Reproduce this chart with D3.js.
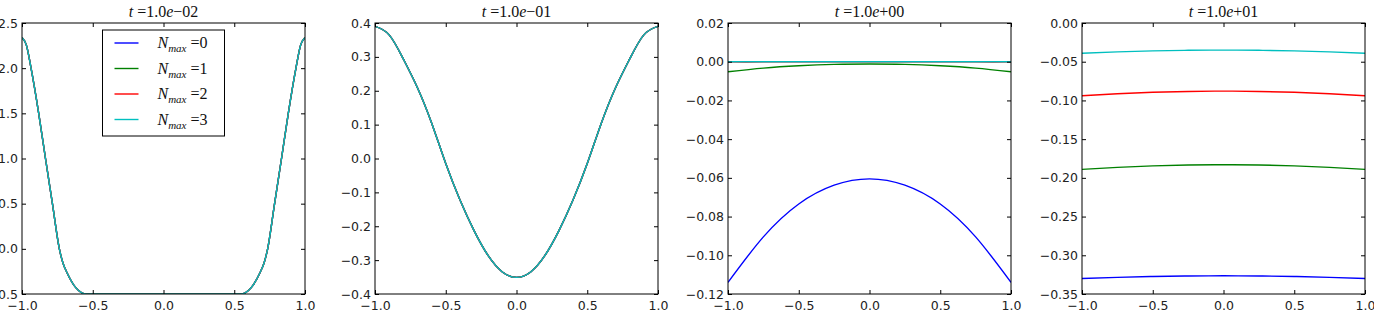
<!DOCTYPE html>
<html>
<head>
<meta charset="utf-8">
<script src="https://cdn.jsdelivr.net/npm/d3@7"></script>
<style>
body { margin: 0; background: #fff; }
svg { display: block; }
</style>
</head>
<body>
<div id="chart"></div>
<script>
var W = 1374, H = 317;

// legend / series
var seriesNames = ["0", "1", "2", "3"];
var seriesColors = ["#0000ff", "#008000", "#ff0000", "#00bfbf"];

// panel titles: exponent of t
var titleExps = ["\u221202", "\u221201", "+00", "+01"];

var xTicks = [-1, -0.5, 0, 0.5, 1];

// panel 1, t = 1e-2 (all four series coincide)
var x1 = [-1, -0.968, -0.936, -0.882, -0.834, -0.785, -0.736, -0.71, -0.68, -0.62, -0.58, -0.548,
          0, 0.548, 0.58, 0.62, 0.68, 0.71, 0.736, 0.785, 0.834, 0.882, 0.936, 0.968, 1];
var y1 = [2.34, 2.25, 2.0, 1.5, 1.0, 0.5, 0.0, -0.16, -0.27, -0.43, -0.485, -0.5,
          -0.5, -0.5, -0.485, -0.43, -0.27, -0.16, 0.0, 0.5, 1.0, 1.5, 2.0, 2.25, 2.34];
var yTicks1 = [-0.5, 0, 0.5, 1, 1.5, 2, 2.5];

// panel 2, t = 1e-1 (all four series coincide)
var x2 = [-1, -0.9, -0.8, -0.7, -0.6, -0.5, -0.4, -0.3, -0.2, -0.1, 0, 0.1, 0.2, 0.3, 0.4, 0.5, 0.6, 0.7, 0.8, 0.9, 1];
var y2 = [0.390, 0.365, 0.294, 0.209, 0.105, -0.015, -0.122, -0.213, -0.287, -0.335, -0.351, -0.335, -0.287, -0.213, -0.122, -0.015, 0.105, 0.209, 0.294, 0.365, 0.390];
var yTicks2 = [-0.4, -0.3, -0.2, -0.1, 0, 0.1, 0.2, 0.3, 0.4];

// panels 3 and 4 share an x grid
var xs = [-1, -0.75, -0.5, -0.25, 0, 0.25, 0.5, 0.75, 1];

// panel 3, t = 1e0
var y3n0 = [-0.114, -0.0905, -0.0735, -0.0638, -0.0605, -0.0638, -0.0735, -0.0905, -0.114];
var y3n1 = [-0.0052, -0.0033, -0.0021, -0.0014, -0.0012, -0.0014, -0.0021, -0.0033, -0.0052];
var y3n2 = [-0.0001, -0.0001, 0, 0, 0, 0, 0, -0.0001, -0.0001];
var y3n3 = [0, 0, 0, 0, 0, 0, 0, 0, 0];
var yTicks3 = [-0.12, -0.10, -0.08, -0.06, -0.04, -0.02, 0, 0.02];

// panel 4, t = 1e1
var y4n0 = [-0.330, -0.3285, -0.3274, -0.3267, -0.3265, -0.3267, -0.3274, -0.3285, -0.330];
var y4n1 = [-0.189, -0.1864, -0.1845, -0.1834, -0.183, -0.1834, -0.1845, -0.1864, -0.189];
var y4n2 = [-0.094, -0.0914, -0.0895, -0.0884, -0.088, -0.0884, -0.0895, -0.0914, -0.094];
var y4n3 = [-0.039, -0.03725, -0.036, -0.03525, -0.035, -0.03525, -0.036, -0.03725, -0.039];
var yTicks4 = [-0.35, -0.30, -0.25, -0.20, -0.15, -0.10, -0.05, 0];

var panels = [
    { xs: x1, ys: [y1, y1, y1, y1], yDomain: [-0.5, 2.5], yTicks: yTicks1, fmt: ".1f", curve: d3.curveMonotoneX, legend: true },
    { xs: x2, ys: [y2, y2, y2, y2], yDomain: [-0.4, 0.4], yTicks: yTicks2, fmt: ".1f", curve: d3.curveNatural },
    { xs: xs, ys: [y3n0, y3n1, y3n2, y3n3], yDomain: [-0.12, 0.02], yTicks: yTicks3, fmt: ".2f", curve: d3.curveNatural },
    { xs: xs, ys: [y4n0, y4n1, y4n2, y4n3], yDomain: [-0.35, 0], yTicks: yTicks4, fmt: ".2f", curve: d3.curveNatural }
];

var lefts = [22, 375, 728, 1082];
var pw = 283, plotTop = 23, ph = 271;
var tick = 4;

var svg = d3.select("#chart").append("svg")
    .attr("width", W)
    .attr("height", H);

panels.forEach(function(p, i) {
    var g = svg.append("g").attr("transform", "translate(" + lefts[i] + "," + plotTop + ")");

    var xScale = d3.scaleLinear().domain([-1, 1]).range([0, pw]);
    var yScale = d3.scaleLinear().domain(p.yDomain).range([ph, 0]);

    g.append("clipPath").attr("id", "clip" + i)
        .append("rect").attr("width", pw).attr("height", ph);

    var line = d3.line()
        .x(function(d) { return xScale(d[0]); })
        .y(function(d) { return yScale(d[1]); })
        .curve(p.curve);

    var lines = g.append("g").attr("clip-path", "url(#clip" + i + ")");
    p.ys.forEach(function(ys, k) {
        lines.append("path")
            .datum(p.xs.map(function(x, j) { return [x, ys[j]]; }))
            .attr("d", line)
            .attr("fill", "none")
            .attr("stroke", seriesColors[k])
            .attr("stroke-width", 1.4);
    });

    // axes, ticks pointing inward on all four sides
    var xAxis = d3.axisBottom(xScale).tickValues(xTicks).tickFormat(d3.format(".1f"))
        .tickSizeInner(-tick).tickSizeOuter(0).tickPadding(7);
    var yAxis = d3.axisLeft(yScale).tickValues(p.yTicks).tickFormat(d3.format(p.fmt))
        .tickSizeInner(-tick).tickSizeOuter(0).tickPadding(4);

    g.append("g").attr("class", "ax").attr("transform", "translate(0," + ph + ")").call(xAxis);
    g.append("g").attr("class", "ax").call(yAxis);
    g.append("g").attr("class", "ax").call(d3.axisTop(xScale).tickValues(xTicks).tickFormat("").tickSizeInner(-tick).tickSizeOuter(0));
    g.append("g").attr("class", "ax").attr("transform", "translate(" + pw + ",0)")
        .call(d3.axisRight(yScale).tickValues(p.yTicks).tickFormat("").tickSizeInner(-tick).tickSizeOuter(0));

    g.selectAll(".ax .domain").remove();
    g.selectAll(".ax line").attr("stroke", "#000");
    g.selectAll(".ax text")
        .attr("font-family", "DejaVu Sans")
        .attr("font-size", 12.5)
        .attr("fill", "#222");

    g.append("rect")
        .attr("width", pw).attr("height", ph)
        .attr("fill", "none").attr("stroke", "#000").attr("stroke-width", 1);

    // title  t = 1.0e-XX
    var title = g.append("text")
        .attr("x", pw / 2).attr("y", -6)
        .attr("text-anchor", "middle")
        .attr("font-family", "Liberation Serif")
        .attr("font-size", 16)
        .attr("fill", "#111");
    title.append("tspan").attr("font-style", "italic").text("t");
    title.append("tspan").text(" =1.0");
    title.append("tspan").attr("font-style", "italic").text("e");
    title.append("tspan").text(titleExps[i]);

    if (p.legend) {
        var lw = 122, lh = 106;
        var lg = g.append("g").attr("transform", "translate(" + (pw / 2 - lw / 2) + ",7)");
        lg.append("rect")
            .attr("width", lw).attr("height", lh)
            .attr("fill", "#fff").attr("stroke", "#000").attr("stroke-width", 1);
        seriesNames.forEach(function(name, k) {
            var ly = 13 + k * 25.5;
            lg.append("line")
                .attr("x1", 12).attr("x2", 36).attr("y1", ly).attr("y2", ly)
                .attr("stroke", seriesColors[k]).attr("stroke-width", 1.4);
            var t = lg.append("text")
                .attr("x", 55).attr("y", ly + 5)
                .attr("font-family", "Liberation Serif")
                .attr("font-size", 16)
                .attr("fill", "#111");
            t.append("tspan").attr("font-style", "italic").text("N");
            t.append("tspan").attr("font-style", "italic").attr("font-size", 11).attr("dy", 4).text("max");
            t.append("tspan").attr("dy", -4).text(" =" + name);
        });
    }
});
</script>
</body>
</html>
